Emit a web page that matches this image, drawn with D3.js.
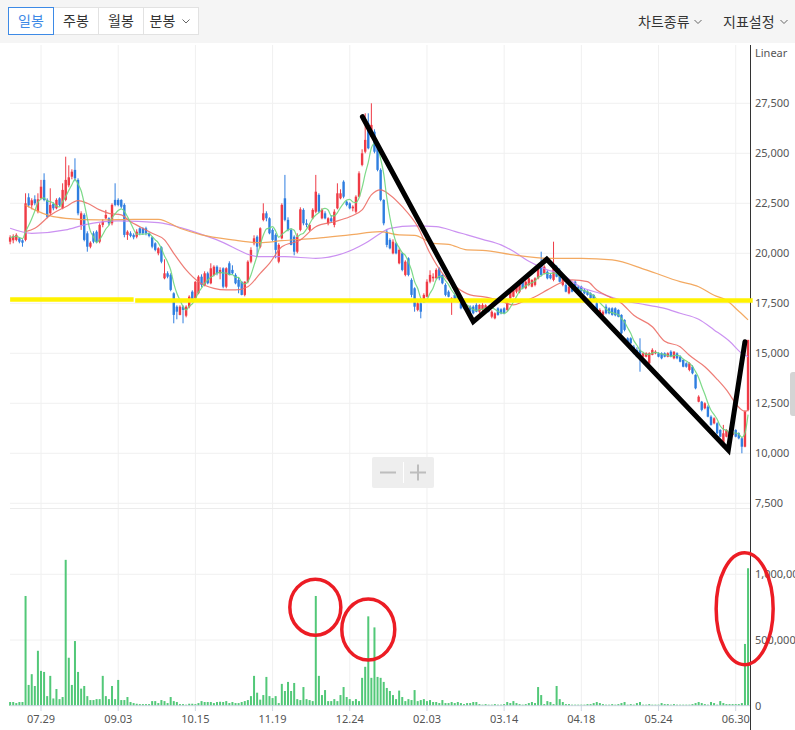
<!DOCTYPE html>
<html><head><meta charset="utf-8">
<script src="https://cdn.jsdelivr.net/npm/d3@7"></script>
<style>body{margin:0;background:#fff;overflow:hidden}svg{display:block}</style>
</head><body>
<svg id="c" width="795" height="730"></svg>
<script>
// ---------- DATA ----------
const tickLabels = ["07.29","09.03","10.15","11.19","12.24","02.03","03.14","04.18","05.24","06.30"];
const tickIndex  = [10,35,60,85,110,135,160,185,210,235];
const priceTicks = [7500,10000,12500,15000,17500,20000,22500,25000,27500];
const volumeTicks = [0,500000,1000000];
// [open, high, low, close]
const ohlc = [
[20580,20900,20450,20800],[20650,20950,20500,20850],[20670,21000,20600,20920],[20750,20800,20500,20580],[20650,20700,20330,20530],
[20670,23000,20600,22500],[22800,23000,22300,22400],[22400,22750,22200,22650],[22700,22900,22400,22500],[22100,23000,22000,22700],
[22750,23670,22700,23330],[23670,24000,22600,22670],[22670,22750,21750,21830],[22000,23250,21900,22420],[22470,22550,22150,22250],
[22250,22750,22200,22670],[22750,22800,22350,22420],[22250,23500,22200,23170],[22670,24830,22600,23670],[23400,24400,23300,23800],
[23830,24200,23700,24080],[24170,24750,23600,23750],[23670,23750,21900,22000],[21420,22100,21170,22000],[21920,22000,20600,20670],
[21000,21100,20080,20330],[20330,20600,20250,20530],[21000,21100,20500,20580],[21080,21150,20500,20580],[20580,21500,20500,21420],
[21420,21700,21300,21580],[21750,22170,21700,21920],[21750,21800,21400,21500],[21500,22500,21400,22420],[22670,23500,22350,22420],
[22670,22750,22350,22420],[22670,22700,22250,22330],[22420,22500,20800,20920],[20920,21150,20670,21080],[21000,21100,20800,20870],
[20920,21000,20700,20800],[20830,21200,20750,21080],[21250,21300,20900,21000],[21250,21300,20950,21000],[21250,21330,20900,21000],
[21000,21050,20800,20870],[20800,20850,20250,20330],[20500,20550,20100,20170],[20000,20300,19900,20250],[20300,20350,19500,19580],
[18750,19700,18700,19000],[19000,19100,18750,18830],[18920,19000,18100,18170],[18000,18050,16500,16920],[17330,17400,16700,17080],
[16920,17400,16900,17330],[17330,17400,16500,17170],[16880,17400,16800,17330],[17330,17900,17250,17830],[18080,18150,17600,17670],
[17750,18600,17700,18580],[18000,18900,17950,18830],[18830,18950,18300,18420],[18420,19100,18350,19000],[19000,19080,18450,18500],
[18500,19500,18450,19250],[18920,19400,18850,19330],[19330,19400,18900,19000],[19000,19300,18700,19170],[19250,19300,18250,18330],
[18330,19300,18250,19250],[19500,19600,18900,18920],[19170,19400,18950,19000],[18920,19000,18450,18500],[18670,18800,18000,18330],
[18580,18600,17900,17920],[17920,18600,17850,18580],[18580,19650,18500,19580],[19580,20300,19500,20170],[20500,20900,20400,20750],
[20830,20900,19830,20330],[20330,21300,20250,21250],[21670,22500,21600,22000],[22000,22100,21600,21750],[21750,21800,20950,21000],
[21170,21250,20600,20670],[20920,21000,19750,20170],[19580,20500,19500,20420],[20750,22500,20700,22420],[22750,23920,21600,21670],
[21670,21800,21100,21170],[21170,21250,20400,20420],[20830,20900,19900,20080],[20080,21000,20000,20830],[21170,22300,21100,22200],
[22170,22250,21400,21500],[21500,21700,21300,21420],[21170,21500,21100,21420],[21750,22250,21700,22170],[22080,23920,22000,23080],
[22920,23000,22000,22080],[21750,22250,21700,22170],[22000,22100,21700,21750],[21500,21800,21400,21750],[21750,21900,21550,21600],
[21420,22200,21300,22080],[22250,23500,22200,23000],[22750,23200,22700,23000],[23580,23650,22750,22830],[22580,22650,22350,22420],
[22500,22550,22200,22250],[22250,22400,22100,22330],[22080,22900,22000,22830],[22830,24100,22800,24000],[24420,25200,24350,25000],
[25080,27000,25000,25670],[26500,27000,25200,25250],[25830,27500,25800,26420],[26080,26200,25000,25080],[25330,25400,24100,24170],
[24170,24250,22600,22670],[22670,22700,21400,21500],[21080,21200,20300,20420],[20670,20750,20200,20250],[20000,20700,19950,20580],
[20500,20550,19950,20000],[19500,20250,19450,20170],[20000,20050,19100,19170],[18920,19650,18850,19580],[19750,19800,18850,18920],
[18670,18750,17800,17920],[18250,18300,17080,17330],[17170,17600,17100,17500],[17500,17550,16750,17080],[17670,18000,17600,17920],
[17830,18700,17800,18580],[18580,19150,18500,18920],[18750,19000,18580,18830],[18750,19250,18700,19170],[19250,19300,18650,18750],
[18920,18950,18450,18500],[18420,18500,17850,17920],[18080,18150,17800,17830],[17580,17800,16920,17750],[17920,18000,17650,17670],
[17830,17900,17550,17580],[17500,17550,17200,17250],[17420,17500,17200,17250],[17250,17400,17150,17330],[17330,17400,17050,17080],
[17330,17400,16950,17000],[17420,17500,17050,17080],[17080,17450,17000,17420],[17170,17500,17100,17420],[17100,17450,17050,17400],
[17200,17250,17050,17100],[16830,17150,16750,17080],[16750,17050,16700,17000],[17250,17300,16880,16920],[17200,17250,16950,17000],
[17250,17300,16950,17000],[17170,17550,17100,17500],[17750,18150,17700,18080],[17830,18300,17800,18250],[18080,18400,18000,18330],
[18080,18450,18000,18420],[18580,18700,18200,18250],[18250,18650,18200,18580],[18420,18800,18350,18750],[18330,18700,18300,18670],
[18420,18800,18350,18750],[18750,19300,18700,19250],[19500,20080,18850,18920],[19000,19400,18950,19330],[19080,19150,18700,18750],
[18920,19000,18700,18750],[18670,20580,18600,19330],[19330,19400,18800,18830],[18920,19250,18550,18580],[18420,18800,18350,18750],
[18420,18500,18050,18080],[18000,18400,17950,18330],[18330,18400,18050,18080],[18580,18650,18300,18330],[18330,18400,18050,18080],
[18330,18380,18050,18100],[18170,18250,17950,18000],[18080,18150,17880,17920],[18000,18050,17700,17750],[17920,17950,17600,17670],
[17500,17600,17100,17170],[17000,17250,16950,17170],[16920,17150,16880,17080],[17330,17450,16950,17000],[17250,17300,16950,17000],
[17250,17300,16880,16920],[17250,17300,16850,16900],[17170,17200,16800,16830],[16920,16950,15950,16000],[16670,16700,16100,16170],
[15750,15800,15400,15500],[15750,15800,15450,15500],[15330,15420,14950,15000],[15170,15300,14800,14830],[15170,15750,14080,14920],
[14830,15050,14800,15000],[14830,15050,14800,15000],[14500,15050,14450,15000],[14920,15250,14900,15170],[15000,15150,14950,15080],
[15000,15050,14800,14830],[15000,15050,14700,14750],[15000,15050,14800,14830],[14830,15050,14800,15000],[15080,15150,14800,14830],
[14750,15100,14700,15080],[15000,15050,14700,14750],[14830,14900,14550,14580],[14670,14700,14300,14330],[14500,14550,14280,14330],
[14170,14550,14100,14500],[14330,14400,13950,14000],[13920,13950,13200,13250],[12580,12900,12550,12830],[12580,12620,12100,12170],
[12250,12550,12200,12500],[12330,12400,11800,11830],[11830,11900,11380,11420],[11500,11800,11450,11750],[11500,11550,10950,11000],
[11170,11200,10800,10830],[10330,11420,10300,11000],[10830,11200,10800,11170],[10920,11150,10880,11080],[10920,11050,10850,11000],
[11170,11200,10800,10830],[11000,11050,10700,10750],[10750,10800,10000,10330],[10330,12150,10300,12080],[12170,15670,12100,15670]
];
// volume, thousands of shares
const volume = [
28,28,20,28,28,835,158,240,150,418, 265,257,73,227,55,127,50,66,1110,365,
158,492,257,130,150,73,43,43,50,50, 227,73,50,150,50,196,43,43,66,28,
20,15,12,12,12,12,35,35,20,43, 35,20,66,35,28,12,12,8,15,15,
12,20,35,28,28,28,20,28,30,28, 35,20,28,20,20,28,35,43,73,227,
99,46,81,219,73,58,73,20,166,112, 181,112,173,50,43,142,50,43,35,835,
227,81,119,35,35,50,35,81,142,66, 50,35,50,35,212,296,680,212,596,219,
212,181,135,112,81,50,115,66,35,50, 43,119,35,43,50,35,43,28,28,20,
43,20,20,28,20,28,20,12,20,20, 28,28,12,8,12,8,8,12,8,8,
12,28,20,35,20,12,8,12,20,28, 20,142,81,12,35,28,12,150,50,28,
12,12,8,8,8,8,8,12,12,20, 28,20,12,8,8,12,8,12,20,28,
8,12,8,20,28,8,8,12,8,8, 8,20,12,12,8,12,8,8,8,8,
8,12,20,28,20,12,8,28,20,8, 35,20,12,12,12,12,12,20,470,1046
];
// moving averages: [index, price]
const ma20 = [[5,21080],[8,21250],[13,21900],[18,22330],[22,22630],[25,22500],[29,22170],[32,22000],[36,21920],[39,21580],[42,21330],[46,21000],[50,20670],[53,20000],[57,19170],[61,18580],[66,18250],[70,18170],[73,18170],[77,18330],[81,19000],[84,19500],[88,20330],[94,20670],[99,21330],[105,21580],[110,21830],[114,22170],[117,22920],[120,23170],[123,22920],[127,22330],[132,21330],[136,20000],[140,19000],[145,18250],[149,17920],[153,17830],[158,17670],[163,17420],[166,17580],[170,17830],[174,18170],[178,18500],[182,18670],[187,18580],[190,18170],[194,17830],[198,17500],[202,16900],[208,16330],[212,15600],[217,15330],[220,14900],[225,14330],[229,13700],[232,13170],[236,12300],[238,12100],[239,12170]];
const ma60 = [[5,22420],[8,22170],[13,21870],[18,21750],[29,21670],[40,21700],[48,21700],[55,21250],[62,20920],[72,20670],[81,20530],[88,20630],[99,20750],[110,20920],[120,21080],[126,20920],[131,20900],[137,20500],[142,20450],[148,20170],[153,20150],[163,19920],[174,19750],[185,19750],[195,19670],[206,19170],[217,18580],[223,18330],[228,17900],[232,17650],[236,17100],[239,16670]];
const ma120 = [[0,21250],[7,21000],[18,21170],[24,21420],[35,21620],[48,21530],[56,21250],[67,20670],[81,19830],[89,19830],[99,19750],[108,20000],[115,20500],[120,21000],[123,21250],[131,21370],[138,21330],[144,21100],[148,20920],[153,20700],[159,20420],[163,20100],[168,19600],[174,19170],[178,19000],[185,18300],[191,18000],[197,17700],[206,17420],[212,17250],[217,17000],[223,16700],[228,16170],[233,15600],[237,15000],[239,14830]];
// hand-drawn annotations, data coordinates
const supportSegments = [[[0,17690],[40,17690]],[[40.5,17640],[240.5,17640]]];
const zigzag = [[114.1,26830],[150.0,16580],[173.8,19700],[232.6,10165],[238.0,15580]];
const circled = [[98.85,749600],[116.0,580000],[237.9,738000]];

// ---------- STYLE / LAYOUT ----------
const W = 795, H = 730;
const plotL = 10, plotR = 750;
const C = {red:"#ef3b46", blue:"#2f7ee0", vol:"#52c878", grid:"#f0f0f0", text:"#555",
  ma5:"#6fd67c", ma20:"#ec6e66", ma60:"#f2a050", ma120:"#c585f0"};
const circleR = [[25.5,28],[26.5,30.5],[28.5,56]];
const numFont = "'Noto Sans', 'DejaVu Sans', sans-serif";
const korFont = "'Noto Sans CJK KR', sans-serif";

const svg = d3.select("#c");
const x = d3.scaleLinear().domain([10,235]).range([41,735.7]);
const y = d3.scaleLinear().domain([7500,27500]).range([503.3,103.3]);
const yv = d3.scaleLinear().domain([0,1000000]).range([705.7,574.3]);

svg.append("rect").attr("width",W).attr("height",H).attr("fill","#fff");

// ---------- header toolbar ----------
svg.append("rect").attr("width",W).attr("height",43).attr("fill","#f5f5f5");
const btns = [["일봉",8.5,45,true],["주봉",53.5,45,false],["월봉",98.5,45,false],["분봉",143.5,55,false]];
const hb = svg.append("g");
btns.forEach(([t,bx,bw,sel])=>{
  hb.append("rect").attr("x",bx).attr("y",7.5).attr("width",bw).attr("height",27)
    .attr("fill","#fff").attr("stroke","#e2e2e2");
});
btns.forEach(([t,bx,bw,sel],k)=>{
  const cx = k===3 ? bx+19 : bx+bw/2;
  hb.append("text").attr("x",cx).attr("y",21).attr("dy","0.35em").attr("text-anchor","middle")
    .attr("font-family",korFont).attr("font-size",14).attr("fill",sel?"#3d8ae6":"#333").text(t);
  if(sel) hb.append("rect").attr("x",bx).attr("y",7.5).attr("width",bw).attr("height",27)
    .attr("fill","none").attr("stroke","#3d8ae6");
});
function chevron(cx,cy){
  svg.append("path").attr("d",`M${cx-3.5},${cy-2}L${cx},${cy+1.5}L${cx+3.5},${cy-2}`)
    .attr("fill","none").attr("stroke","#666").attr("stroke-width",1);
}
chevron(186,21.5);
svg.append("text").attr("x",638).attr("y",22).attr("dy","0.35em").attr("font-family",korFont)
  .attr("font-size",14).attr("fill","#333").text("차트종류");
chevron(698,22);
svg.append("text").attr("x",723).attr("y",22).attr("dy","0.35em").attr("font-family",korFont)
  .attr("font-size",14).attr("fill","#333").text("지표설정");
chevron(784,22);

// ---------- grid ----------
const g = svg.append("g");
g.selectAll(".hg").data(priceTicks).join("line")
  .attr("x1",plotL).attr("x2",plotR).attr("y1",d=>y(d)).attr("y2",d=>y(d))
  .attr("stroke",C.grid).attr("stroke-width",1);
g.selectAll(".vg").data(tickIndex).join("line")
  .attr("x1",d=>x(d)).attr("x2",d=>x(d)).attr("y1",45).attr("y2",705.7)
  .attr("stroke",C.grid).attr("stroke-width",1);
g.append("line").attr("x1",plotL).attr("x2",plotR).attr("y1",508.5).attr("y2",508.5).attr("stroke","#ececec");
g.selectAll(".vgl").data(volumeTicks.slice(1)).join("line")
  .attr("x1",plotL).attr("x2",plotR).attr("y1",d=>yv(d)).attr("y2",d=>yv(d))
  .attr("stroke",C.grid);

// ---------- candles ----------
const cg = svg.append("g");
const bw = 2.4;
cg.selectAll(".wick").data(ohlc).join("line")
  .attr("x1",(d,i)=>x(i)).attr("x2",(d,i)=>x(i))
  .attr("y1",d=>y(d[1])).attr("y2",d=>y(d[2]))
  .attr("stroke",d=>d[3]>=d[0]?C.red:C.blue).attr("stroke-width",1);
cg.selectAll(".body").data(ohlc).join("rect")
  .attr("x",(d,i)=>x(i)-bw/2).attr("width",bw)
  .attr("y",d=>y(Math.max(d[0],d[3])))
  .attr("height",d=>Math.max(1,Math.abs(y(d[0])-y(d[3]))))
  .attr("fill",d=>d[3]>=d[0]?C.red:C.blue);

// ---------- moving averages ----------
const closes = ohlc.map(d=>d[3]);
const ma5 = closes.map((c,i)=>[i, d3.mean(closes.slice(Math.max(0,i-4),i+1))]);
const line = d3.line().x(d=>x(d[0])).y(d=>y(d[1])).curve(d3.curveMonotoneX);
[[ma120,C.ma120],[ma60,C.ma60],[ma20,C.ma20],[ma5,C.ma5]].forEach(([pts,col])=>{
  svg.append("path").attr("d",line(pts)).attr("fill","none").attr("stroke",col)
    .attr("stroke-width",1.2).attr("opacity",0.9);
});

// ---------- volume ----------
svg.append("g").selectAll("rect").data(volume).join("rect")
  .attr("x",(d,i)=>x(i)-1).attr("width",2)
  .attr("y",d=>yv(d*1000)).attr("height",d=>yv(0)-yv(d*1000))
  .attr("fill",C.vol);

// ---------- axes ----------
svg.append("line").attr("x1",plotL).attr("x2",plotR).attr("y1",705.7).attr("y2",705.7).attr("stroke","#cfd6e2");
svg.selectAll(".xt").data(tickIndex).join("line")
  .attr("x1",d=>x(d)).attr("x2",d=>x(d)).attr("y1",705.7).attr("y2",711).attr("stroke","#cfd6e2");
svg.selectAll(".xl").data(tickLabels).join("text")
  .attr("x",(d,i)=>x(tickIndex[i])).attr("y",719).attr("dy","0.35em").attr("text-anchor","middle")
  .attr("font-family",numFont).attr("font-size",11).attr("fill",C.text).text(d=>d);
svg.append("line").attr("x1",750.5).attr("x2",750.5).attr("y1",45).attr("y2",730).attr("stroke","#333");
svg.selectAll(".pl").data(priceTicks).join("text")
  .attr("x",755).attr("y",d=>y(d)).attr("dy","0.35em")
  .attr("font-family",numFont).attr("font-size",11).attr("fill",C.text).text(d=>d3.format(",")(d));
svg.append("text").attr("x",755).attr("y",53).attr("dy","0.35em")
  .attr("font-family",numFont).attr("font-size",11).attr("fill",C.text).text("Linear");
svg.selectAll(".vl").data(volumeTicks).join("text")
  .attr("x",755).attr("y",d=>yv(d)).attr("dy","0.35em")
  .attr("font-family",numFont).attr("font-size",11).attr("fill",C.text).text(d=>d3.format(",")(d));

// scroll handle & zoom control
svg.append("rect").attr("x",790).attr("y",372).attr("width",8).attr("height",44).attr("rx",3).attr("fill","#d4d4d4");
const zc = svg.append("g");
zc.append("rect").attr("x",372).attr("y",457).attr("width",62).attr("height",31).attr("rx",2).attr("fill","#eeeeee");
zc.append("line").attr("x1",403.5).attr("x2",403.5).attr("y1",462).attr("y2",483).attr("stroke","#fff");
zc.append("line").attr("x1",380).attr("x2",396).attr("y1",472.5).attr("y2",472.5).attr("stroke","#bdbdbd").attr("stroke-width",2);
zc.append("line").attr("x1",410).attr("x2",426).attr("y1",472.5).attr("y2",472.5).attr("stroke","#bdbdbd").attr("stroke-width",2);
zc.append("line").attr("x1",418).attr("x2",418).attr("y1",464.5).attr("y2",480.5).attr("stroke","#bdbdbd").attr("stroke-width",2);

// ---------- annotations ----------
const sl = d3.line().x(d=>x(d[0])).y(d=>y(d[1]));
supportSegments.forEach(s=>{
  svg.append("path").attr("d",sl(s)).attr("stroke","#fff200").attr("stroke-width",4.5).attr("fill","none");
});
svg.append("path").attr("d",sl(zigzag)).attr("fill","none").attr("stroke","#000")
  .attr("stroke-width",5).attr("stroke-linejoin","miter").attr("stroke-linecap","round");
svg.selectAll(".circ").data(circled).join("ellipse")
  .attr("cx",d=>x(d[0])).attr("cy",d=>yv(d[1]))
  .attr("rx",(d,i)=>circleR[i][0]).attr("ry",(d,i)=>circleR[i][1])
  .attr("fill","none").attr("stroke","#ec1c24").attr("stroke-width",3.5);
</script>
</body></html>
